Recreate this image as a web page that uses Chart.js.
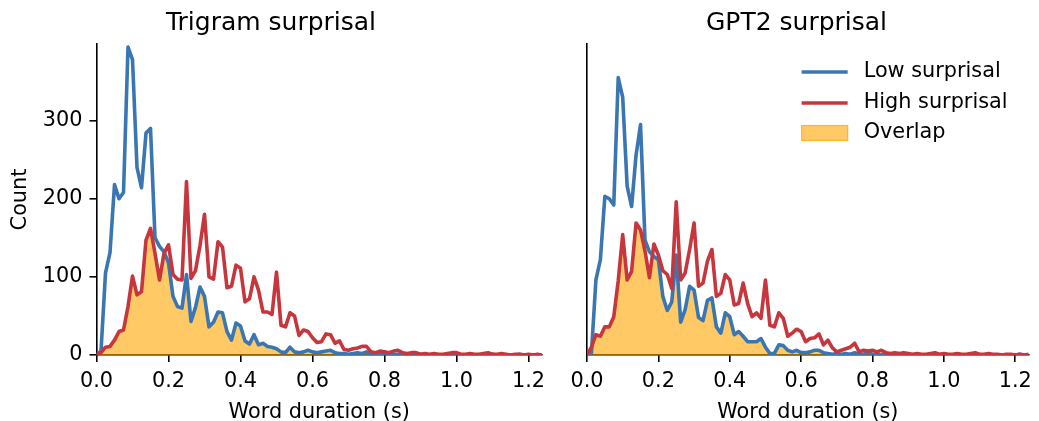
<!DOCTYPE html>
<html>
<head>
<meta charset="utf-8">
<script src="https://cdn.jsdelivr.net/npm/chart.js"></script>
<style>
  html, body { margin: 0; padding: 0; background: #fff; overflow: hidden; }
  #wrap { position: relative; width: 1039px; height: 421px; }
  .panel { position: absolute; top: 0; }
  #left { left: 0; }
  #right { left: 560px; }
</style>
</head>
<body>
<div id="wrap">
  <div class="panel" id="left"><canvas id="trigram" width="560" height="425"></canvas></div>
  <div class="panel" id="right"><canvas id="gpt2" width="479" height="425"></canvas></div>
</div>
<script>
// histogram counts per bin (bin width 0.0125 s, plotted at the left edge)
const binWidth = 0.0125;

const trigramLow = [0, 5, 105, 131, 218, 200, 208, 394, 378, 240,
    214, 284, 290, 150, 139, 132, 118, 75, 62, 60,
    103, 43, 61, 87, 75, 36, 42, 55, 54, 30,
    19, 41, 37, 18, 14, 26, 13, 15, 11, 10,
    8, 4, 3, 10, 4, 3, 4, 6, 4, 3,
    4, 5, 6, 3, 2, 2, 1, 2, 3, 2,
    4, 1, 1, 1, 2, 0, 1, 1, 0, 1,
    0, 0, 1, 0, 0, 1, 0, 0, 0, 1,
    0, 0, 0, 1, 0, 0, 0, 0, 1, 0,
    0, 0, 0, 0, 1, 0, 0, 0, 0, 0];

const trigramHigh = [0, 3, 10, 11, 19, 30, 32, 62, 101, 77,
    81, 147, 162, 130, 96, 130, 141, 103, 97, 96,
    222, 98, 108, 140, 180, 100, 97, 145, 138, 86,
    88, 115, 111, 68, 72, 100, 83, 55, 55, 52,
    106, 38, 36, 54, 50, 25, 32, 30, 22, 16,
    17, 27, 26, 15, 18, 7, 6, 8, 9, 11,
    11, 4, 3, 5, 4, 3, 5, 6, 3, 2,
    3, 3, 1, 2, 1, 2, 1, 1, 2, 3,
    3, 1, 1, 2, 1, 1, 2, 3, 1, 1,
    2, 1, 0, 1, 1, 0, 1, 0, 1, 0];

const gpt2Low = [0, 3, 96, 122, 203, 200, 192, 355, 330, 216,
    190, 256, 295, 147, 132, 126, 122, 75, 57, 68,
    128, 42, 58, 88, 83, 48, 44, 70, 73, 36,
    28, 54, 49, 26, 30, 24, 17, 17, 17, 21,
    10, 2, 2, 13, 12, 6, 4, 6, 3, 3,
    4, 6, 6, 3, 2, 1, 2, 1, 2, 1,
    3, 1, 1, 4, 1, 1, 0, 1, 0, 0,
    1, 0, 0, 0, 1, 0, 0, 0, 0, 0,
    1, 0, 0, 0, 0, 0, 1, 0, 0, 0,
    0, 0, 0, 0, 0, 0, 0, 1, 0, 0];

const gpt2High = [0, 10, 26, 24, 36, 36, 49, 95, 154, 96,
    107, 169, 160, 133, 99, 142, 128, 108, 103, 85,
    196, 96, 105, 135, 169, 88, 92, 120, 135, 75,
    79, 103, 96, 64, 66, 92, 66, 49, 54, 47,
    96, 38, 36, 54, 47, 24, 28, 33, 30, 17,
    21, 22, 27, 13, 19, 9, 4, 6, 8, 10,
    15, 4, 6, 5, 6, 4, 6, 3, 2, 3,
    2, 3, 2, 1, 2, 1, 1, 2, 3, 1,
    2, 1, 1, 2, 1, 1, 2, 3, 1, 1,
    2, 1, 1, 0, 1, 1, 0, 1, 0, 1];

const xTicks = [0, 0.2, 0.4, 0.6, 0.8, 1.0, 1.2];
const yTicks = [0, 100, 200, 300];

const BLUE = '#3a76b2';
const RED = '#c8363d';
const ORANGE = 'rgba(255,165,0,0.6)';
const FONT = 20.8;
const LINE_W = 3.6;

Chart.defaults.font.family = '"DejaVu Sans", sans-serif';
Chart.defaults.font.size = FONT;
Chart.defaults.color = '#000';

function points(values) {
    return values.map((v, i) => ({x: i * binWidth, y: v}));
}

function overlap(a, b) {
    return a.map((v, i) => Math.min(v, b[i]));
}

// legend drawn inside the right axes, upper right
const legendPlugin = {
    id: 'innerLegend',
    afterDraw(chart) {
        const ctx = chart.ctx;
        const area = chart.chartArea;
        const x0 = area.right - 227;
        const tx = area.right - 165;
        const rows = [area.top + 28, area.top + 59, area.top + 89];
        ctx.save();
        ctx.lineWidth = LINE_W;
        ctx.strokeStyle = BLUE;
        ctx.beginPath(); ctx.moveTo(x0, rows[0]); ctx.lineTo(x0 + 46, rows[0]); ctx.stroke();
        ctx.strokeStyle = RED;
        ctx.beginPath(); ctx.moveTo(x0, rows[1]); ctx.lineTo(x0 + 46, rows[1]); ctx.stroke();
        ctx.fillStyle = ORANGE;
        ctx.fillRect(x0, rows[2] - 7.5, 46, 15);
        ctx.lineWidth = 1.2;
        ctx.strokeStyle = 'rgba(255,165,0,0.75)';
        ctx.strokeRect(x0, rows[2] - 7.5, 46, 15);
        ctx.fillStyle = '#000';
        ctx.font = FONT + 'px "DejaVu Sans"';
        ctx.textBaseline = 'middle';
        ctx.textAlign = 'left';
        ctx.fillText('Low surprisal', tx, rows[0]);
        ctx.fillText('High surprisal', tx, rows[1]);
        ctx.fillText('Overlap', tx, rows[2]);
        ctx.restore();
    }
};

function makeChart(id, title, low, high, isLeft) {
    const ctx = document.getElementById(id);
    return new Chart(ctx, {
        type: 'line',
        data: {
            datasets: [
                {
                    label: 'High surprisal',
                    data: points(high),
                    borderColor: RED,
                    borderWidth: LINE_W,
                    pointRadius: 0,
                    tension: 0,
                    fill: false,
                    borderJoinStyle: 'round',
                    order: 0
                },
                {
                    label: 'Low surprisal',
                    data: points(low),
                    borderColor: BLUE,
                    borderWidth: LINE_W,
                    pointRadius: 0,
                    tension: 0,
                    fill: false,
                    borderJoinStyle: 'round',
                    order: 1
                },
                {
                    label: 'Overlap',
                    data: points(overlap(low, high)),
                    borderWidth: 0,
                    borderColor: 'rgba(0,0,0,0)',
                    backgroundColor: ORANGE,
                    pointRadius: 0,
                    tension: 0,
                    fill: 'origin',
                    order: 2
                }
            ]
        },
        options: {
            responsive: false,
            animation: false,
            devicePixelRatio: 1,
            layout: {padding: {left: 0, right: isLeft ? 18 : 6, top: 0, bottom: 0}},
            plugins: {
                legend: {display: false},
                tooltip: {enabled: false},
                title: {
                    display: true,
                    text: title,
                    color: '#000',
                    font: {size: 25, weight: 'normal'},
                    padding: {top: 8, bottom: 6}
                }
            },
            scales: {
                x: {
                    type: 'linear',
                    min: 0,
                    max: 1.2375,
                    afterFit: (s) => { s.height = 70; },
                    afterBuildTicks: (s) => { s.ticks = xTicks.map(v => ({value: v})); },
                    ticks: {
                        padding: 7,
                        color: '#000',
                        maxRotation: 0,
                        autoSkip: false,
                        callback: (v) => Number(v).toFixed(1)
                    },
                    grid: {drawOnChartArea: false, drawTicks: true, tickLength: 7, color: '#000', lineWidth: 1.6},
                    border: {display: true, color: '#000', width: 1.6},
                    title: {display: true, text: 'Word duration (s)', color: '#000', padding: {top: 0, bottom: 0}}
                },
                y: {
                    min: 0,
                    max: 398,
                    afterFit: (s) => { s.width = isLeft ? 96.5 : 27; },
                    afterBuildTicks: (s) => { s.ticks = yTicks.map(v => ({value: v})); },
                    ticks: {display: isLeft, padding: 7, color: '#000'},
                    grid: {display: isLeft, drawOnChartArea: false, drawTicks: true, tickLength: 7, color: '#000', lineWidth: 1.6},
                    border: {display: true, color: '#000', width: 1.6},
                    title: {display: isLeft, text: 'Count', color: '#000', padding: {top: 8, bottom: 0}}
                }
            }
        },
        plugins: isLeft ? [] : [legendPlugin]
    });
}

makeChart('trigram', 'Trigram surprisal', trigramLow, trigramHigh, true);
makeChart('gpt2', 'GPT2 surprisal', gpt2Low, gpt2High, false);
</script>
</body>
</html>
